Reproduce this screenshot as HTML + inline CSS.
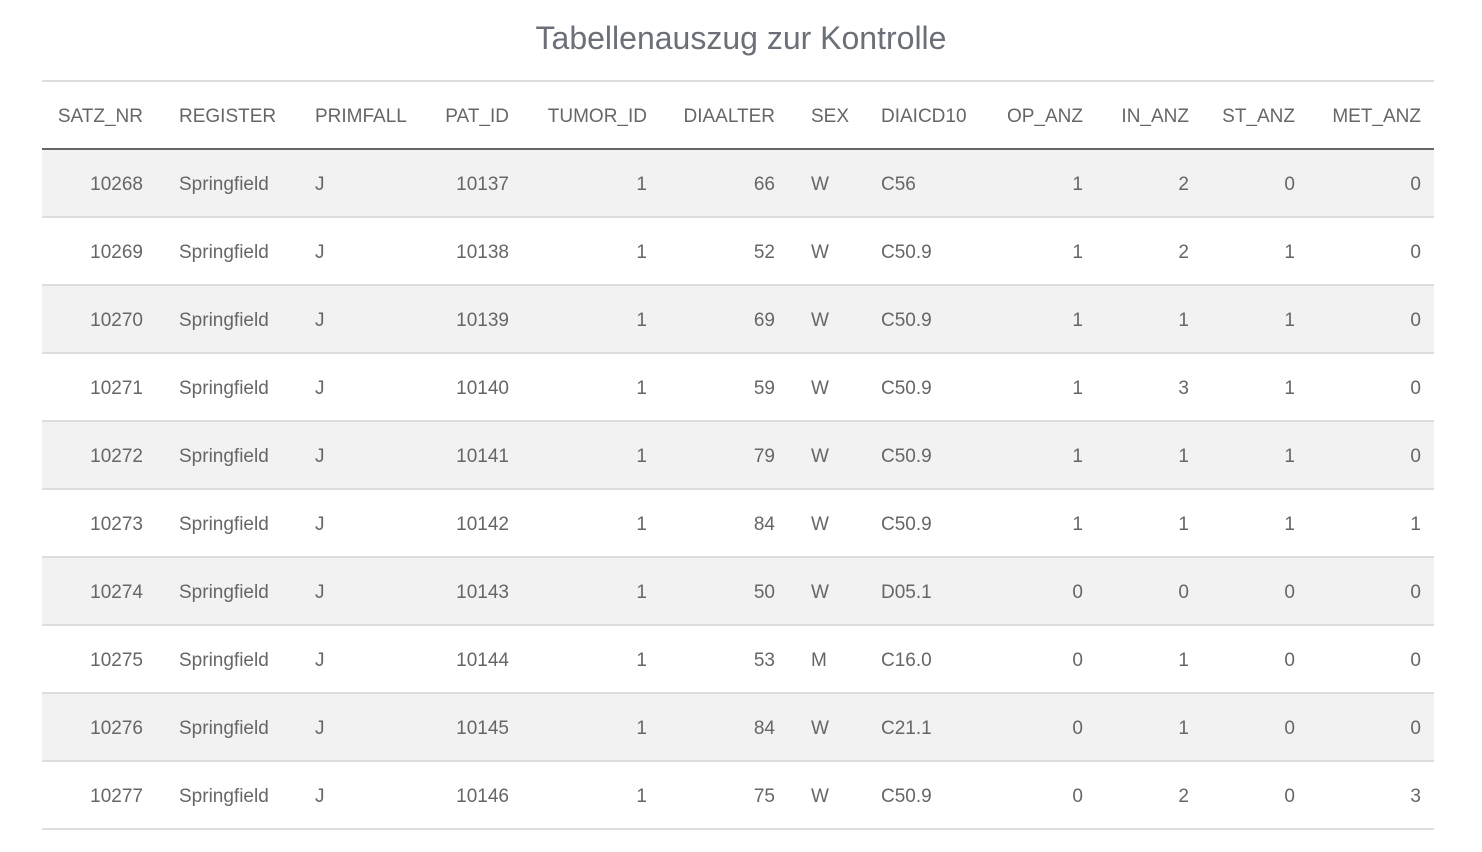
<!DOCTYPE html>
<html><head><meta charset="utf-8"><style>
body{margin:0;width:1482px;height:852px;background:#fff;font-family:"Liberation Sans",sans-serif;color:#666;position:relative;overflow:hidden}
.t{position:absolute;left:0;width:1482px;top:20px;text-align:center;font-size:32px;color:#6b6f78}
.row{position:absolute;left:42px;width:1392px;height:66px;border-bottom:2px solid #ddd}
.c{position:absolute;top:1px;line-height:68px;font-size:19px;white-space:nowrap}
.r{text-align:right}
</style></head><body>
<div class="t">Tabellenauszug zur Kontrolle</div>
<div style="position:absolute;left:42px;top:80px;width:1392px;height:2px;background:#ddd"></div>
<div id="tb"></div>
<script>
const cols=[[143,'r'],[179,'l'],[315,'l'],[509,'r'],[647,'r'],[775,'r'],[811,'l'],[881,'l'],[1083,'r'],[1189,'r'],[1295,'r'],[1421,'r']];
const hdr=['SATZ_NR','REGISTER','PRIMFALL','PAT_ID','TUMOR_ID','DIAALTER','SEX','DIAICD10','OP_ANZ','IN_ANZ','ST_ANZ','MET_ANZ'];
const d=[[10268,66,'W','C56',1,2,0,0],[10269,52,'W','C50.9',1,2,1,0],[10270,69,'W','C50.9',1,1,1,0],[10271,59,'W','C50.9',1,3,1,0],[10272,79,'W','C50.9',1,1,1,0],[10273,84,'W','C50.9',1,1,1,1],[10274,50,'W','D05.1',0,0,0,0],[10275,53,'M','C16.0',0,1,0,0],[10276,84,'W','C21.1',0,1,0,0],[10277,75,'W','C50.9',0,2,0,3]];
let h='';
function row(top,vals,bg,bb){
 let s=`<div class="row" style="top:${top}px;background:${bg};${bb}">`;
 vals.forEach((v,i)=>{const [x,a]=cols[i];
  if(a=='r')s+=`<div class="c r" style="right:${1434-x}px">${v}</div>`;
  else s+=`<div class="c" style="left:${x-42}px">${v}</div>`;});
 return s+'</div>';
}
h+=row(82,hdr,'#fff','border-bottom:2px solid #666;height:66px');
d.forEach((r,k)=>{
 const id=10137+k;
 h+=row(150+68*k,[r[0],'Springfield','J',id,1,r[1],r[2],r[3],r[4],r[5],r[6],r[7]],k%2==0?'#f2f2f2':'#fff','');
});
document.getElementById('tb').innerHTML=h;
</script>
</body></html>
